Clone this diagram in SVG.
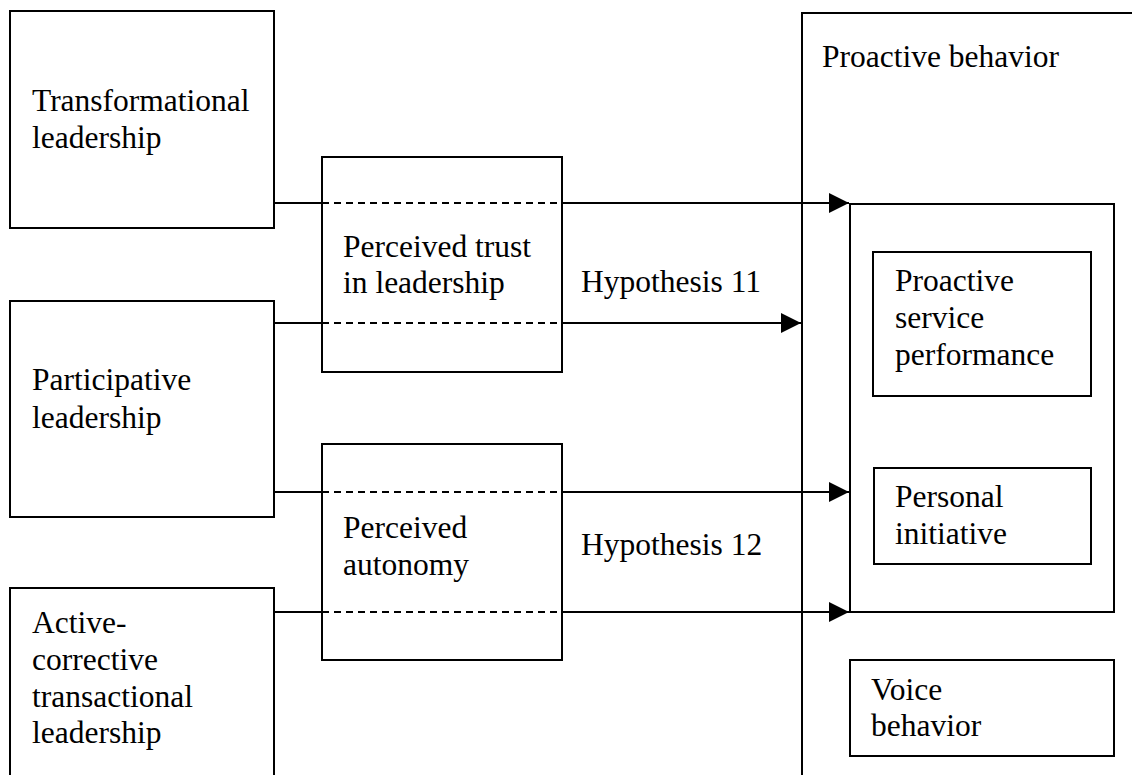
<svg xmlns="http://www.w3.org/2000/svg" width="1132" height="775" viewBox="0 0 1132 775">
  <style>
    .box { fill: none; stroke: #000; stroke-width: 2; }
    .lbl { font-family: "Liberation Serif", "Times New Roman", serif; font-size: 31.5px; fill: #000; }
    .solid { fill: none; stroke: #000; stroke-width: 2; }
    .dash { fill: none; stroke: #000; stroke-width: 2; stroke-dasharray: 7 5; }
  </style>
  <defs>
    <marker id="arrow" markerUnits="userSpaceOnUse" markerWidth="22" markerHeight="22" refX="20" refY="10" orient="auto">
      <path d="M0,0 L20,10 L0,20 Z" fill="#000"/>
    </marker>
  </defs>
  <rect width="1132" height="775" fill="#fff"/>

  <!-- Leadership styles -->
  <g id="transformational">
    <rect class="box" x="10" y="11" width="264" height="217"/>
    <text class="lbl" x="32" y="111">Transformational</text>
    <text class="lbl" x="32" y="148">leadership</text>
  </g>
  <g id="participative">
    <rect class="box" x="10" y="301" width="264" height="216"/>
    <text class="lbl" x="32" y="390">Participative</text>
    <text class="lbl" x="32" y="428">leadership</text>
  </g>
  <g id="active-corrective">
    <rect class="box" x="10" y="588" width="264" height="200"/>
    <text class="lbl" x="32" y="633">Active-</text>
    <text class="lbl" x="32" y="670">corrective</text>
    <text class="lbl" x="32" y="707">transactional</text>
    <text class="lbl" x="32" y="743">leadership</text>
  </g>

  <!-- Mediators -->
  <g id="trust">
    <rect class="box" x="322" y="157" width="240" height="215"/>
    <text class="lbl" x="343" y="257">Perceived trust</text>
    <text class="lbl" x="343" y="293">in leadership</text>
  </g>
  <g id="autonomy">
    <rect class="box" x="322" y="444" width="240" height="216"/>
    <text class="lbl" x="343" y="538">Perceived</text>
    <text class="lbl" x="343" y="575">autonomy</text>
  </g>

  <!-- Outcomes -->
  <g id="proactive-behavior">
    <rect class="box" x="802" y="13" width="360" height="800"/>
    <text class="lbl" x="822" y="67">Proactive behavior</text>
  </g>
  <g id="proactive-group">
    <rect class="box" x="850" y="204" width="264" height="408"/>
  </g>
  <g id="service-performance">
    <rect class="box" x="873" y="252" width="218" height="144"/>
    <text class="lbl" x="895" y="291">Proactive</text>
    <text class="lbl" x="895" y="328">service</text>
    <text class="lbl" x="895" y="365">performance</text>
  </g>
  <g id="personal-initiative">
    <rect class="box" x="874" y="468" width="217" height="96"/>
    <text class="lbl" x="895" y="507">Personal</text>
    <text class="lbl" x="895" y="544">initiative</text>
  </g>
  <g id="voice">
    <rect class="box" x="850" y="660" width="264" height="96"/>
    <text class="lbl" x="871" y="700">Voice</text>
    <text class="lbl" x="871" y="736">behavior</text>
  </g>

  <!-- Hypothesis labels -->
  <g id="hypotheses">
    <text class="lbl" x="581" y="292">Hypothesis 11</text>
    <text class="lbl" x="581" y="555">Hypothesis 12</text>
  </g>

  <!-- Connectors: solid outside the mediator, dashed through it -->
  <g id="connectors">
    <path class="solid" d="M274,203 H322"/>
    <path class="dash" d="M322,203 H562"/>
    <path class="solid" d="M562,203 H849" marker-end="url(#arrow)"/>

    <path class="solid" d="M274,323 H322"/>
    <path class="dash" d="M322,323 H562"/>
    <path class="solid" d="M562,323 H801" marker-end="url(#arrow)"/>

    <path class="solid" d="M274,492 H322"/>
    <path class="dash" d="M322,492 H562"/>
    <path class="solid" d="M562,492 H849" marker-end="url(#arrow)"/>

    <path class="solid" d="M274,612 H322"/>
    <path class="dash" d="M322,612 H562"/>
    <path class="solid" d="M562,612 H849" marker-end="url(#arrow)"/>
  </g>
</svg>
